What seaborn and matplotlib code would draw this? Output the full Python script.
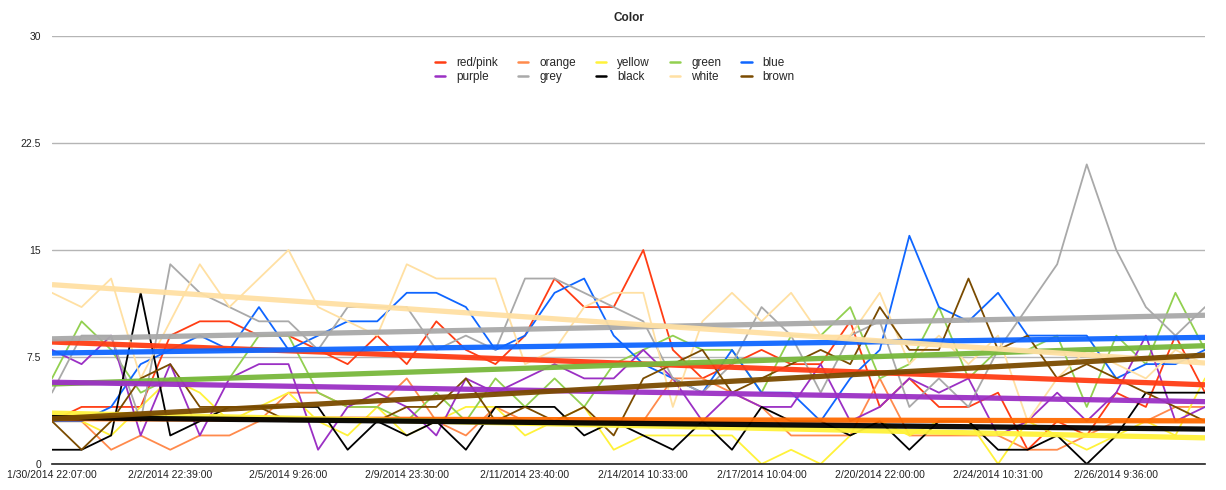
import matplotlib
matplotlib.use("Agg")
import matplotlib.pyplot as plt
import numpy as np
import pandas as pd
import seaborn as sns

names = ["red/pink", "orange", "yellow", "green", "blue",
         "purple", "grey", "black", "white", "brown"]

red = [3, 4, 4, 4, 9, 10, 10, 9, 9, 8, 7, 9, 7, 10, 8, 7, 9, 13, 11, 11,
       15, 8, 6, 7, 8, 7, 7, 10, 4, 6, 4, 4, 5, 1, 3, 2, 5, 4, 9, 5]
orange = [3, 3, 1, 2, 1, 2, 2, 3, 5, 5, 4, 4, 6, 3, 2, 4, 3, 3, 3, 3,
          3, 6, 6, 5, 4, 2, 2, 2, 6, 2, 2, 2, 2, 1, 1, 2, 3, 3, 4, 4]
yellow = [3, 3, 2, 4, 6, 5, 3, 4, 5, 3, 2, 4, 2, 3, 4, 4, 2, 3, 4, 1,
          2, 2, 2, 2, 0, 1, 0, 2, 3, 2, 3, 3, 0, 3, 2, 1, 2, 3, 2, 6]
green = [6, 10, 8, 5, 6, 6, 6, 9, 9, 5, 4, 4, 3, 5, 3, 6, 4, 6, 4, 7,
         8, 9, 8, 8, 5, 9, 9, 11, 6, 7, 11, 6, 8, 8, 9, 4, 9, 7, 12, 8]
blue = [3, 3, 4, 7, 8, 9, 8, 11, 8, 9, 10, 10, 12, 12, 11, 8, 9, 12, 13, 9,
        7, 6, 5, 8, 5, 5, 3, 6, 8, 16, 11, 10, 12, 9, 9, 9, 6, 7, 7, 8]
purple = [8, 7, 9, 2, 7, 2, 6, 7, 7, 1, 4, 5, 4, 2, 6, 5, 6, 7, 6, 6,
          8, 6, 3, 5, 4, 4, 7, 3, 4, 6, 5, 6, 2, 3, 5, 3, 5, 9, 3, 4]
grey = [5, 9, 9, 3, 14, 12, 11, 10, 10, 8, 11, 11, 11, 8, 9, 8, 13, 13, 12, 11,
        10, 6, 5, 7, 11, 9, 5, 9, 10, 4, 6, 4, 8, 11, 14, 21, 15, 11, 9, 11]
black = [1, 1, 2, 12, 2, 3, 4, 4, 4, 4, 1, 3, 2, 3, 1, 4, 4, 4, 2, 3,
         2, 1, 3, 1, 4, 3, 3, 2, 3, 1, 3, 3, 1, 1, 2, 0, 2, 5, 5, 5]
white = [12, 11, 13, 6, 10, 14, 11, 13, 15, 11, 10, 9, 14, 13, 13, 13, 7, 8, 11, 12,
         12, 4, 10, 12, 10, 12, 9, 9, 12, 7, 9, 7, 9, 3, 6, 8, 7, 6, 8, 7]
brown = [3, 1, 3, 6, 7, 4, 4, 4, 3, 3, 3, 3, 4, 4, 6, 3, 4, 3, 4, 2,
         6, 7, 8, 5, 6, 7, 8, 7, 11, 8, 8, 13, 8, 9, 6, 7, 6, 5, 4, 3]

tick_labels = ["1/30/2014 22:07:00", "2/2/2014 22:39:00", "2/5/2014 9:26:00",
               "2/9/2014 23:30:00", "2/11/2014 23:40:00", "2/14/2014 10:33:00",
               "2/17/2014 10:04:00", "2/20/2014 22:00:00", "2/24/2014 10:31:00",
               "2/26/2014 9:36:00"]

values = [red, orange, yellow, green, blue, purple, grey, black, white, brown]
line_colors = ["#ff3d14", "#ff8a4c", "#fff23a", "#92d050", "#0f66ff",
               "#9b30c4", "#a9a9a9", "#000000", "#ffe0a3", "#7a4b00"]
trend_colors = ["#ff3d14", "#ff6a00", "#fff23a", "#78b83c", "#0f66ff",
                "#9b30c4", "#a9a9a9", "#000000", "#ffe0a3", "#7a4b00"]

idx = np.arange(len(red))
df = pd.DataFrame({"idx": np.tile(idx, len(names)),
                   "count": np.concatenate(values),
                   "color": np.repeat(names, len(idx))})

sns.set_style("white")
plt.rcParams["font.family"] = ["Liberation Sans", "DejaVu Sans"]

fig = plt.figure(figsize=(12.26, 4.9), dpi=100)
ax = fig.add_axes([52 / 1226, 1 - 464 / 490, (1205 - 52) / 1226, (464 - 36) / 490])

sns.lineplot(data=df, x="idx", y="count", hue="color", palette=dict(zip(names, line_colors)),
             lw=1.3, ax=ax, legend=False)
for name, vals, c in zip(names, values, trend_colors):
    sns.regplot(x=idx, y=np.array(vals, dtype=float), scatter=False, ci=None, truncate=True,
                color=c, line_kws={"lw": 3.8, "alpha": 0.95, "solid_capstyle": "butt"}, ax=ax)

ax.set_xlim(0, 39)
ax.set_ylim(0, 30)
ax.set_yticks([0, 7.5, 15, 22.5, 30])
ax.set_yticklabels(["0", "7.5", "15", "22.5", "30"])
ax.set_xticks(idx[::4])
ax.set_xticklabels(tick_labels)
ax.tick_params(axis="both", length=0, labelsize=7.5, colors="#222222")
ax.tick_params(axis="y", pad=8)
ax.tick_params(axis="x", pad=4)
ax.yaxis.grid(True, color="#b5b5b5", lw=1)
ax.set_axisbelow(True)
for s in ["top", "right", "left"]:
    ax.spines[s].set_visible(False)
ax.spines["bottom"].set_color("#222222")
ax.spines["bottom"].set_linewidth(1.2)
ax.set_xlabel("")
ax.set_ylabel("")
ax.set_title("Color", fontsize=8.5, fontweight="bold", pad=11)

handles = [plt.Line2D([], [], color=c, lw=1.8) for c in line_colors]
order = [0, 5, 1, 6, 2, 7, 3, 8, 4, 9]
ax.legend([handles[i] for i in order], [names[i] for i in order], ncol=5,
          loc="upper center", bbox_to_anchor=(0.488, 0.975), frameon=False,
          fontsize=8.5, handlelength=0.9, handletextpad=0.9, columnspacing=1.7,
          labelspacing=0.15)

fig.savefig("out.png", dpi=100)
